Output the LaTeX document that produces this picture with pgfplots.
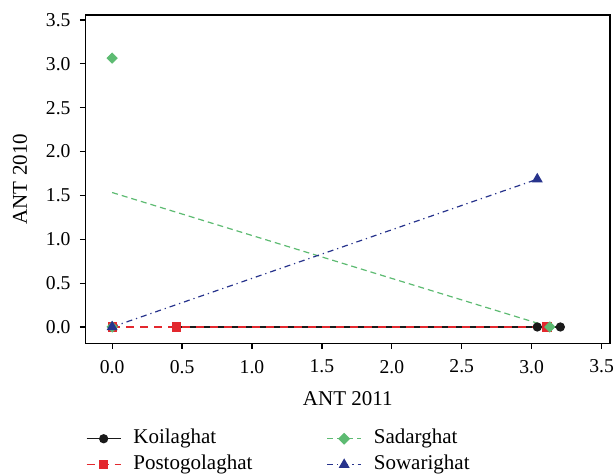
\documentclass[border=0pt]{standalone}
\usepackage{fontspec}
\setmainfont{Liberation Serif}
\usepackage{pgfplots}
\pgfplotsset{compat=1.18}
\usetikzlibrary{calc}
\definecolor{kcol}{HTML}{1A1A1A}
\definecolor{pcol}{HTML}{E3282E}
\definecolor{scol}{HTML}{5DBB72}
\definecolor{wcol}{HTML}{27338C}
\begin{document}
\begin{tikzpicture}
\begin{axis}[
  name=ax,
  scale only axis,
  width=262pt, height=164pt,
  xmin=-0.19, xmax=3.56, ymin=-0.186, ymax=3.557,
  xtick={0,0.5,...,3.5}, ytick={0,0.5,...,3.5},
  /pgf/number format/fixed,
  /pgf/number format/fixed zerofill,
  /pgf/number format/precision=1,
  /pgf/number format/assume math mode=true,
  tick label style={font=\fontsize{9.8}{11}\selectfont},
  xticklabel style={yshift=-2pt},
  yticklabel style={xshift=-1.2pt},
  tick pos=left, tick align=outside, major tick length=2.8pt,
  axis line style={line width=0.6pt},
  every tick/.style={line width=0.6pt, black},
  xlabel={ANT 2011}, ylabel={ANT 2010},
  label style={font=\fontsize{10.5}{12}\selectfont},
  xlabel style={at={(axis description cs:0.5,-0.168)}, anchor=center},
  ylabel style={at={(axis description cs:-0.125,0.5)}, anchor=center},
  legend columns=2,
  legend cell align=left,
  legend style={draw=none, fill=none, at={(0,-0.253)}, anchor=north west,
    font=\fontsize{10.5}{12}\selectfont, inner sep=0pt, row sep=1pt,
    nodes={inner sep=1pt, text height=7.5pt, text depth=2.5pt},
    /tikz/column 1/.style={column sep=5pt},
    /tikz/column 2/.style={column sep=36pt},
    /tikz/column 3/.style={column sep=5pt}},
]
% Koilaghat
\addplot[kcol, line width=0.6pt, mark=*, mark size=2pt, forget plot]
  coordinates {(0.46,0) (3.04,0) (3.205,0)};
% Postogolaghat
\addplot[pcol, line width=0.6pt, dash pattern=on 4pt off 3pt, mark=square*, mark size=2pt,
  mark options={solid}, forget plot]
  coordinates {(0,0) (0.46,0) (3.11,0)};
% Sadarghat line (means)
\addplot[scol, line width=0.6pt, dash pattern=on 3pt off 2pt, forget plot]
  coordinates {(0,1.533) (3.13,0)};
% Sadarghat points
\addplot[scol, only marks, mark=square*, mark size=1.8pt, mark options={rotate=45}, forget plot]
  coordinates {(0,3.066) (0,0) (3.13,0)};
% Sowarighat
\addplot[wcol, line width=0.6pt, dash pattern=on 3pt off 2pt on 0.6pt off 2pt,
  mark=triangle*, mark size=2.6pt, mark options={solid}, forget plot]
  coordinates {(0,0) (3.04,1.685)};
\addlegendimage{kcol, line width=0.6pt, mark=*, mark size=2pt}
\addlegendentry{Koilaghat}
\addlegendimage{scol, line width=0.6pt, dash pattern=on 3pt off 2pt, mark=square*, mark size=1.8pt, mark options={solid, rotate=45}}
\addlegendentry{Sadarghat}
\addlegendimage{pcol, line width=0.6pt, dash pattern=on 4pt off 3pt, mark=square*, mark size=2pt, mark options={solid}}
\addlegendentry{Postogolaghat}
\addlegendimage{wcol, line width=0.6pt, dash pattern=on 3pt off 2pt on 0.6pt off 2pt, mark=triangle*, mark size=2.6pt, mark options={solid}}
\addlegendentry{Sowarighat}
\end{axis}
\pgfresetboundingbox
\path[use as bounding box] ($(ax.south west)+(-42.75pt,-65.5pt)$) rectangle ($(ax.north east)+(2pt,7.5pt)$);
\end{tikzpicture}
\end{document}
